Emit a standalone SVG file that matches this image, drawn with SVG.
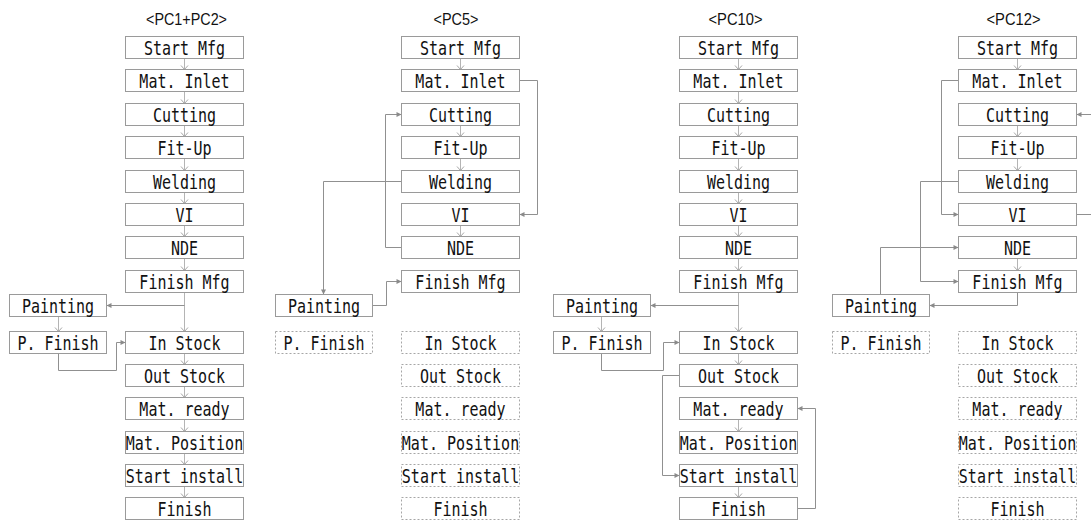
<svg xmlns="http://www.w3.org/2000/svg" width="1091" height="523" viewBox="0 0 1091 523">
  <style>
    .box{fill:#fff;stroke:#9a9a9a;stroke-width:1}
    .dash{fill:#fff;stroke:#a6a6a6;stroke-width:1;stroke-dasharray:2 2}
    .lbl{font-family:"DejaVu Sans Mono","Liberation Mono",monospace;font-size:15px;fill:#111;text-anchor:middle}
    .ttl{font-family:"Liberation Sans","DejaVu Sans",sans-serif;font-size:16.5px;fill:#111;text-anchor:middle}
    .step{fill:none;stroke:#b4b4b4;stroke-width:1;marker-end:url(#chev)}
    .link{fill:none;stroke:#909090;stroke-width:1;marker-end:url(#tri)}
  </style>
  <defs>
    <marker id="chev" viewBox="-6 -5 7 10" refX="0" refY="0" markerWidth="7" markerHeight="10" markerUnits="userSpaceOnUse" orient="auto">
      <path d="M-4,-3.5 L0,0 L-4,3.5" fill="none" stroke="#a8a8a8" stroke-width="1"/>
    </marker>
    <marker id="tri" viewBox="-6 -4 7 8" refX="0" refY="0" markerWidth="7" markerHeight="8" markerUnits="userSpaceOnUse" orient="auto">
      <path d="M-5,-2.5 L0,0 L-5,2.5 Z" fill="#8a8a8a"/>
    </marker>
  </defs>

  <!-- column titles -->
  <g id="titles">
    <text class="ttl" x="186.5" y="25" textLength="81" lengthAdjust="spacingAndGlyphs">&lt;PC1+PC2&gt;</text>
    <text class="ttl" x="456" y="25" textLength="45" lengthAdjust="spacingAndGlyphs">&lt;PC5&gt;</text>
    <text class="ttl" x="735.5" y="25" textLength="54" lengthAdjust="spacingAndGlyphs">&lt;PC10&gt;</text>
    <text class="ttl" x="1013.5" y="25" textLength="54" lengthAdjust="spacingAndGlyphs">&lt;PC12&gt;</text>
  </g>

  <!-- connectors -->
  <g id="connectors">
    <!-- PC1+PC2 -->
    <path class="step" d="M184.5,58.5 V69.5"/>
    <path class="step" d="M184.5,91.5 V103.5"/>
    <path class="step" d="M184.5,125.5 V136.5"/>
    <path class="step" d="M184.5,158.5 V170.5"/>
    <path class="step" d="M184.5,192.5 V203.5"/>
    <path class="step" d="M184.5,225.5 V236.5"/>
    <path class="step" d="M184.5,258.5 V270.5"/>
    <path class="step" d="M184.5,292.5 V331.5"/>
    <path class="link" d="M184.5,305.5 H106.5"/>
    <path class="step" d="M58.5,316.5 V331.5"/>
    <path class="link" d="M58.5,353.5 V370.5 H116.5 V342.5 H125.5"/>
    <path class="step" d="M184.5,353.5 V364.5"/>
    <path class="step" d="M184.5,386.5 V397.5"/>
    <path class="step" d="M184.5,419.5 V431.5"/>
    <path class="step" d="M184.5,453.5 V464.5"/>
    <path class="step" d="M184.5,486.5 V497.5"/>

    <!-- PC5 -->
    <path class="step" d="M460.5,58.5 V69.5"/>
    <path class="link" d="M519.5,80.5 H537.5 V214.5 H519.5"/>
    <path class="step" d="M460.5,125.5 V136.5"/>
    <path class="step" d="M460.5,158.5 V170.5"/>
    <path class="link" d="M401.5,247.5 H385.5 V114.5 H401.5"/>
    <path class="link" d="M401.5,181.5 H323.5 V294.5"/>
    <path class="step" d="M460.5,225.5 V236.5"/>
    <path class="link" d="M372.5,305.5 H386.5 V281.5 H401.5"/>

    <!-- PC10 -->
    <path class="step" d="M738.5,58.5 V69.5"/>
    <path class="step" d="M738.5,91.5 V103.5"/>
    <path class="step" d="M738.5,125.5 V136.5"/>
    <path class="step" d="M738.5,158.5 V170.5"/>
    <path class="step" d="M738.5,192.5 V203.5"/>
    <path class="step" d="M738.5,225.5 V236.5"/>
    <path class="step" d="M738.5,258.5 V270.5"/>
    <path class="step" d="M738.5,292.5 V331.5"/>
    <path class="link" d="M738.5,305.5 H650.5"/>
    <path class="step" d="M601.5,316.5 V331.5"/>
    <path class="link" d="M601.5,353.5 V370.5 H663.5 V342.5 H679.5"/>
    <path class="step" d="M738.5,353.5 V364.5"/>
    <path class="link" d="M679.5,375.5 H662.5 V475.5 H679.5"/>
    <path class="step" d="M738.5,419.5 V431.5"/>
    <path class="step" d="M738.5,486.5 V497.5"/>
    <path class="link" d="M797.5,508.5 H815.5 V408.5 H797.5"/>

    <!-- PC12 -->
    <path class="step" d="M1017.5,58.5 V69.5"/>
    <path class="link" d="M958.5,80.5 H941.5 V214.5 H958.5"/>
    <path class="link" d="M1076.5,214.5 H1096 V114.5 H1076.5"/>
    <path class="step" d="M1017.5,125.5 V136.5"/>
    <path class="step" d="M1017.5,158.5 V170.5"/>
    <path class="link" d="M958.5,181.5 H920.5 V281.5 H958.5"/>
    <path class="step" d="M1017.5,258.5 V270.5"/>
    <path class="link" d="M1017.5,292.5 V305.5 H929.5"/>
    <path class="link" d="M880.5,294.5 V247.5 H958.5"/>
  </g>

  <!-- PC1+PC2 nodes -->
  <g id="pc1-start-mfg"><rect class="box" x="125.5" y="36.5" width="118" height="22"/><text class="lbl" transform="translate(184.5,54.5) scale(1,1.25)">Start Mfg</text></g>
  <g id="pc1-mat-inlet"><rect class="box" x="125.5" y="69.5" width="118" height="22"/><text class="lbl" transform="translate(184.5,87.5) scale(1,1.25)">Mat. Inlet</text></g>
  <g id="pc1-cutting"><rect class="box" x="125.5" y="103.5" width="118" height="22"/><text class="lbl" transform="translate(184.5,121.5) scale(1,1.25)">Cutting</text></g>
  <g id="pc1-fit-up"><rect class="box" x="125.5" y="136.5" width="118" height="22"/><text class="lbl" transform="translate(184.5,154.5) scale(1,1.25)">Fit-Up</text></g>
  <g id="pc1-welding"><rect class="box" x="125.5" y="170.5" width="118" height="22"/><text class="lbl" transform="translate(184.5,188.5) scale(1,1.25)">Welding</text></g>
  <g id="pc1-vi"><rect class="box" x="125.5" y="203.5" width="118" height="22"/><text class="lbl" transform="translate(184.5,221.5) scale(1,1.25)">VI</text></g>
  <g id="pc1-nde"><rect class="box" x="125.5" y="236.5" width="118" height="22"/><text class="lbl" transform="translate(184.5,254.5) scale(1,1.25)">NDE</text></g>
  <g id="pc1-finish-mfg"><rect class="box" x="125.5" y="270.5" width="118" height="22"/><text class="lbl" transform="translate(184.5,288.5) scale(1,1.25)">Finish Mfg</text></g>
  <g id="pc1-painting"><rect class="box" x="9.5" y="294.5" width="97" height="22"/><text class="lbl" transform="translate(58,312.5) scale(1,1.25)">Painting</text></g>
  <g id="pc1-p-finish"><rect class="box" x="9.5" y="331.5" width="97" height="22"/><text class="lbl" transform="translate(58,349.5) scale(1,1.25)">P. Finish</text></g>
  <g id="pc1-in-stock"><rect class="box" x="125.5" y="331.5" width="118" height="22"/><text class="lbl" transform="translate(184.5,349.5) scale(1,1.25)">In Stock</text></g>
  <g id="pc1-out-stock"><rect class="box" x="125.5" y="364.5" width="118" height="22"/><text class="lbl" transform="translate(184.5,382.5) scale(1,1.25)">Out Stock</text></g>
  <g id="pc1-mat-ready"><rect class="box" x="125.5" y="397.5" width="118" height="22"/><text class="lbl" transform="translate(184.5,415.5) scale(1,1.25)">Mat. ready</text></g>
  <g id="pc1-mat-position"><rect class="box" x="125.5" y="431.5" width="118" height="22"/><text class="lbl" transform="translate(184.5,449.5) scale(1,1.25)">Mat. Position</text></g>
  <g id="pc1-start-install"><rect class="box" x="125.5" y="464.5" width="118" height="22"/><text class="lbl" transform="translate(184.5,482.5) scale(1,1.25)">Start install</text></g>
  <g id="pc1-finish"><rect class="box" x="125.5" y="497.5" width="118" height="22"/><text class="lbl" transform="translate(184.5,515.5) scale(1,1.25)">Finish</text></g>

  <!-- PC5 nodes -->
  <g id="pc5-start-mfg"><rect class="box" x="401.5" y="36.5" width="118" height="22"/><text class="lbl" transform="translate(460.5,54.5) scale(1,1.25)">Start Mfg</text></g>
  <g id="pc5-mat-inlet"><rect class="box" x="401.5" y="69.5" width="118" height="22"/><text class="lbl" transform="translate(460.5,87.5) scale(1,1.25)">Mat. Inlet</text></g>
  <g id="pc5-cutting"><rect class="box" x="401.5" y="103.5" width="118" height="22"/><text class="lbl" transform="translate(460.5,121.5) scale(1,1.25)">Cutting</text></g>
  <g id="pc5-fit-up"><rect class="box" x="401.5" y="136.5" width="118" height="22"/><text class="lbl" transform="translate(460.5,154.5) scale(1,1.25)">Fit-Up</text></g>
  <g id="pc5-welding"><rect class="box" x="401.5" y="170.5" width="118" height="22"/><text class="lbl" transform="translate(460.5,188.5) scale(1,1.25)">Welding</text></g>
  <g id="pc5-vi"><rect class="box" x="401.5" y="203.5" width="118" height="22"/><text class="lbl" transform="translate(460.5,221.5) scale(1,1.25)">VI</text></g>
  <g id="pc5-nde"><rect class="box" x="401.5" y="236.5" width="118" height="22"/><text class="lbl" transform="translate(460.5,254.5) scale(1,1.25)">NDE</text></g>
  <g id="pc5-finish-mfg"><rect class="box" x="401.5" y="270.5" width="118" height="22"/><text class="lbl" transform="translate(460.5,288.5) scale(1,1.25)">Finish Mfg</text></g>
  <g id="pc5-painting"><rect class="box" x="275.5" y="294.5" width="97" height="22"/><text class="lbl" transform="translate(324,312.5) scale(1,1.25)">Painting</text></g>
  <g id="pc5-p-finish"><rect class="dash" x="275.5" y="331.5" width="97" height="22"/><text class="lbl" transform="translate(324,349.5) scale(1,1.25)">P. Finish</text></g>
  <g id="pc5-in-stock"><rect class="dash" x="401.5" y="331.5" width="118" height="22"/><text class="lbl" transform="translate(460.5,349.5) scale(1,1.25)">In Stock</text></g>
  <g id="pc5-out-stock"><rect class="dash" x="401.5" y="364.5" width="118" height="22"/><text class="lbl" transform="translate(460.5,382.5) scale(1,1.25)">Out Stock</text></g>
  <g id="pc5-mat-ready"><rect class="dash" x="401.5" y="397.5" width="118" height="22"/><text class="lbl" transform="translate(460.5,415.5) scale(1,1.25)">Mat. ready</text></g>
  <g id="pc5-mat-position"><rect class="dash" x="401.5" y="431.5" width="118" height="22"/><text class="lbl" transform="translate(460.5,449.5) scale(1,1.25)">Mat. Position</text></g>
  <g id="pc5-start-install"><rect class="dash" x="401.5" y="464.5" width="118" height="22"/><text class="lbl" transform="translate(460.5,482.5) scale(1,1.25)">Start install</text></g>
  <g id="pc5-finish"><rect class="dash" x="401.5" y="497.5" width="118" height="22"/><text class="lbl" transform="translate(460.5,515.5) scale(1,1.25)">Finish</text></g>

  <!-- PC10 nodes -->
  <g id="pc10-start-mfg"><rect class="box" x="679.5" y="36.5" width="118" height="22"/><text class="lbl" transform="translate(738.5,54.5) scale(1,1.25)">Start Mfg</text></g>
  <g id="pc10-mat-inlet"><rect class="box" x="679.5" y="69.5" width="118" height="22"/><text class="lbl" transform="translate(738.5,87.5) scale(1,1.25)">Mat. Inlet</text></g>
  <g id="pc10-cutting"><rect class="box" x="679.5" y="103.5" width="118" height="22"/><text class="lbl" transform="translate(738.5,121.5) scale(1,1.25)">Cutting</text></g>
  <g id="pc10-fit-up"><rect class="box" x="679.5" y="136.5" width="118" height="22"/><text class="lbl" transform="translate(738.5,154.5) scale(1,1.25)">Fit-Up</text></g>
  <g id="pc10-welding"><rect class="box" x="679.5" y="170.5" width="118" height="22"/><text class="lbl" transform="translate(738.5,188.5) scale(1,1.25)">Welding</text></g>
  <g id="pc10-vi"><rect class="box" x="679.5" y="203.5" width="118" height="22"/><text class="lbl" transform="translate(738.5,221.5) scale(1,1.25)">VI</text></g>
  <g id="pc10-nde"><rect class="box" x="679.5" y="236.5" width="118" height="22"/><text class="lbl" transform="translate(738.5,254.5) scale(1,1.25)">NDE</text></g>
  <g id="pc10-finish-mfg"><rect class="box" x="679.5" y="270.5" width="118" height="22"/><text class="lbl" transform="translate(738.5,288.5) scale(1,1.25)">Finish Mfg</text></g>
  <g id="pc10-painting"><rect class="box" x="553.5" y="294.5" width="97" height="22"/><text class="lbl" transform="translate(602,312.5) scale(1,1.25)">Painting</text></g>
  <g id="pc10-p-finish"><rect class="box" x="553.5" y="331.5" width="97" height="22"/><text class="lbl" transform="translate(602,349.5) scale(1,1.25)">P. Finish</text></g>
  <g id="pc10-in-stock"><rect class="box" x="679.5" y="331.5" width="118" height="22"/><text class="lbl" transform="translate(738.5,349.5) scale(1,1.25)">In Stock</text></g>
  <g id="pc10-out-stock"><rect class="box" x="679.5" y="364.5" width="118" height="22"/><text class="lbl" transform="translate(738.5,382.5) scale(1,1.25)">Out Stock</text></g>
  <g id="pc10-mat-ready"><rect class="box" x="679.5" y="397.5" width="118" height="22"/><text class="lbl" transform="translate(738.5,415.5) scale(1,1.25)">Mat. ready</text></g>
  <g id="pc10-mat-position"><rect class="box" x="679.5" y="431.5" width="118" height="22"/><text class="lbl" transform="translate(738.5,449.5) scale(1,1.25)">Mat. Position</text></g>
  <g id="pc10-start-install"><rect class="box" x="679.5" y="464.5" width="118" height="22"/><text class="lbl" transform="translate(738.5,482.5) scale(1,1.25)">Start install</text></g>
  <g id="pc10-finish"><rect class="box" x="679.5" y="497.5" width="118" height="22"/><text class="lbl" transform="translate(738.5,515.5) scale(1,1.25)">Finish</text></g>

  <!-- PC12 nodes -->
  <g id="pc12-start-mfg"><rect class="box" x="958.5" y="36.5" width="118" height="22"/><text class="lbl" transform="translate(1017.5,54.5) scale(1,1.25)">Start Mfg</text></g>
  <g id="pc12-mat-inlet"><rect class="box" x="958.5" y="69.5" width="118" height="22"/><text class="lbl" transform="translate(1017.5,87.5) scale(1,1.25)">Mat. Inlet</text></g>
  <g id="pc12-cutting"><rect class="box" x="958.5" y="103.5" width="118" height="22"/><text class="lbl" transform="translate(1017.5,121.5) scale(1,1.25)">Cutting</text></g>
  <g id="pc12-fit-up"><rect class="box" x="958.5" y="136.5" width="118" height="22"/><text class="lbl" transform="translate(1017.5,154.5) scale(1,1.25)">Fit-Up</text></g>
  <g id="pc12-welding"><rect class="box" x="958.5" y="170.5" width="118" height="22"/><text class="lbl" transform="translate(1017.5,188.5) scale(1,1.25)">Welding</text></g>
  <g id="pc12-vi"><rect class="box" x="958.5" y="203.5" width="118" height="22"/><text class="lbl" transform="translate(1017.5,221.5) scale(1,1.25)">VI</text></g>
  <g id="pc12-nde"><rect class="box" x="958.5" y="236.5" width="118" height="22"/><text class="lbl" transform="translate(1017.5,254.5) scale(1,1.25)">NDE</text></g>
  <g id="pc12-finish-mfg"><rect class="box" x="958.5" y="270.5" width="118" height="22"/><text class="lbl" transform="translate(1017.5,288.5) scale(1,1.25)">Finish Mfg</text></g>
  <g id="pc12-painting"><rect class="box" x="832.5" y="294.5" width="97" height="22"/><text class="lbl" transform="translate(881,312.5) scale(1,1.25)">Painting</text></g>
  <g id="pc12-p-finish"><rect class="dash" x="832.5" y="331.5" width="97" height="22"/><text class="lbl" transform="translate(881,349.5) scale(1,1.25)">P. Finish</text></g>
  <g id="pc12-in-stock"><rect class="dash" x="958.5" y="331.5" width="118" height="22"/><text class="lbl" transform="translate(1017.5,349.5) scale(1,1.25)">In Stock</text></g>
  <g id="pc12-out-stock"><rect class="dash" x="958.5" y="364.5" width="118" height="22"/><text class="lbl" transform="translate(1017.5,382.5) scale(1,1.25)">Out Stock</text></g>
  <g id="pc12-mat-ready"><rect class="dash" x="958.5" y="397.5" width="118" height="22"/><text class="lbl" transform="translate(1017.5,415.5) scale(1,1.25)">Mat. ready</text></g>
  <g id="pc12-mat-position"><rect class="dash" x="958.5" y="431.5" width="118" height="22"/><text class="lbl" transform="translate(1017.5,449.5) scale(1,1.25)">Mat. Position</text></g>
  <g id="pc12-start-install"><rect class="dash" x="958.5" y="464.5" width="118" height="22"/><text class="lbl" transform="translate(1017.5,482.5) scale(1,1.25)">Start install</text></g>
  <g id="pc12-finish"><rect class="dash" x="958.5" y="497.5" width="118" height="22"/><text class="lbl" transform="translate(1017.5,515.5) scale(1,1.25)">Finish</text></g>
</svg>
